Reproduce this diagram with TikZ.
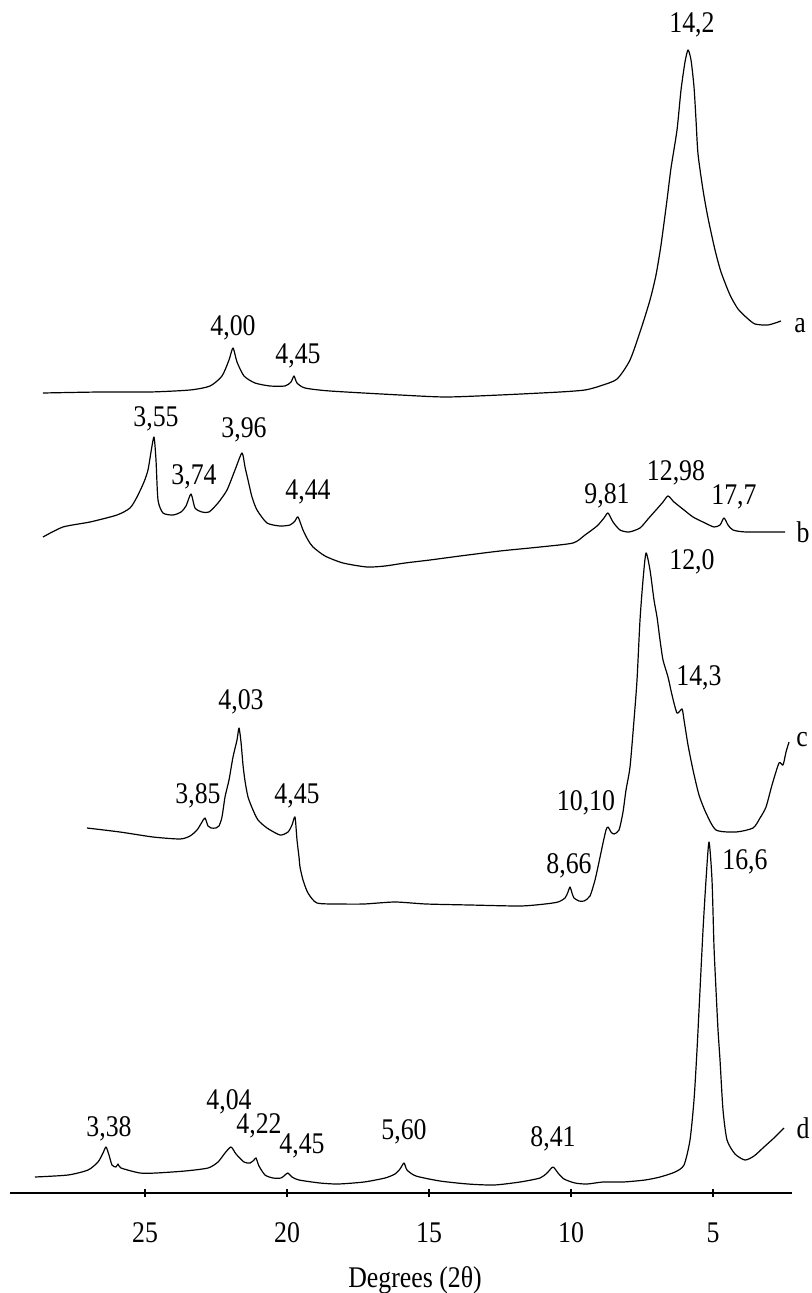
\documentclass[tikz,border=0pt]{standalone}
\usepackage{fontspec}
\setmainfont[FakeStretch=0.86]{Liberation Serif}

\begin{document}
\begin{tikzpicture}[x=0.5pt,y=-0.5pt,
  trace/.style={line width=0.6pt, line join=round, smooth, tension=0.4},
  dval/.style={font=\fontsize{15}{17}\selectfont, inner sep=0pt},
  curvetag/.style={font=\fontsize{15}{17}\selectfont, inner sep=0pt}]
\useasboundingbox (0,0) rectangle (812,1293);

% pattern a
\draw[trace] plot coordinates {(43,393) (100,392) (150,392) (190,390) (210,386) (222,376) (229,360) (233,348) (237,362) (244,376) (255,383) (270,386) (285,386) (291,382) (294,376) (297,383) (305,388) (330,391) (400,395) (446,397) (500,395) (560,392) (585,390) (600,386) (617,379) (630,360) (641,329) (650,300) (656,275) (661,245) (667,200) (671,168) (677,130) (681,90) (685,62) (688,50) (691,60) (694,87) (696,120) (698,154) (703,190) (708,218) (715,250) (721,272) (730,295) (738,309) (747,318) (755,324) (768,325) (781,321)};
\node[curvetag] (ta) at (800,326) {a};
\node[dval] (a1) at (692,25) {14,2};
\node[dval] (a2) at (233,328) {4,00};
\node[dval] (a3) at (298,356) {4,45};

% pattern b
\draw[trace] plot coordinates {(43,537) (63,527) (90,522) (117,515) (130,508) (137,497) (144,482) (148,470) (151,452) (154,437) (156,460) (158,500) (163,513) (173,515) (181,512) (186,506) (191,494) (195,508) (202,512) (209,512) (218,503) (227,490) (235,470) (242,453) (245,467) (248,480) (252,497) (257,510) (267,523) (280,526) (290,525) (295,521) (298,517) (303,530) (308,540) (313,547) (325,556) (343,563) (367,567) (385,566) (405,563) (430,560) (460,556) (500,551) (540,547) (573,543) (585,535) (597,526) (604,518) (608,513) (613,522) (620,530) (629,532) (640,528) (648,519) (656,510) (663,502) (668,496) (674,502) (684,510) (693,517) (705,523) (714,527) (720,525) (724,518) (728,525) (733,530) (746,532) (785,532)};
\node[curvetag] (tb) at (803,532) {b};
\node[dval] (b1) at (156,419) {3,55};
\node[dval] (b2) at (194,477) {3,74};
\node[dval] (b3) at (244,430) {3,96};
\node[dval] (b4) at (308,492) {4,44};
\node[dval] (b5) at (607,496) {9,81};
\node[dval] (b6) at (676,473) {12,98};
\node[dval] (b7) at (734,497) {17,7};

% pattern c
\draw[trace] plot coordinates {(87,828) (120,832) (153,837) (180,839) (190,836) (197,830) (202,822) (205,818) (208,826) (211,828) (216,828) (219,826) (222,817) (225,797) (229,780) (233,757) (237,740) (239,728) (241,742) (243,765) (245,781) (248,797) (253,810) (258,820) (267,828) (280,835) (288,832) (292,825) (295,817) (297,840) (299,857) (300,867) (303,880) (308,893) (317,903) (340,904) (364,904) (395,902) (426,904) (470,905) (520,906) (545,904) (558,902) (565,898) (568,892) (570,887) (572,893) (574,898) (579,901) (584,901) (590,896) (595,880) (599,862) (603,843) (606,830) (608,827) (611,832) (614,834) (619,830) (623,812) (626,790) (630,767) (634,720) (637,680) (640,620) (643,580) (646,553) (650,570) (654,600) (657,617) (660,640) (663,660) (668,677) (672,695) (677,713) (682,709) (684,720) (688,745) (693,770) (699,795) (706,813) (716,830) (736,832) (753,828) (760,818) (766,807) (772,785) (779,763) (783,765) (786,752) (789,742)};
\node[curvetag] (tc) at (802,740) {c};
\node[dval] (c1) at (692,562) {12,0};
\node[dval] (c2) at (699,678) {14,3};
\node[dval] (c3) at (241,702) {4,03};
\node[dval] (c4) at (198,796) {3,85};
\node[dval] (c5) at (297,796) {4,45};
\node[dval] (c6) at (586,803) {10,10};
\node[dval] (c7) at (569,866) {8,66};

% pattern d
\draw[trace] plot coordinates {(35,1177) (68,1175) (88,1170) (98,1162) (103,1153) (106,1147) (109,1155) (112,1165) (116,1167) (118,1164) (121,1168) (140,1173) (156,1173) (185,1171) (208,1168) (218,1162) (225,1153) (231,1147) (236,1154) (244,1162) (250,1163) (254,1160) (256,1158) (259,1166) (265,1175) (273,1178) (281,1178) (285,1175) (288,1173) (292,1177) (299,1180) (320,1183) (338,1184) (364,1182) (385,1178) (395,1174) (400,1169) (404,1163) (407,1170) (416,1176) (440,1181) (468,1184) (494,1185) (520,1182) (540,1178) (547,1173) (553,1167) (558,1173) (564,1179) (575,1183) (587,1184) (603,1182) (623,1182) (645,1180) (660,1177) (675,1172) (684,1165) (690,1140) (694,1100) (697,1050) (700,990) (703,930) (706,880) (709,842) (712,880) (714,947) (716,990) (718,1030) (720,1060) (723,1110) (727,1140) (735,1154) (745,1160) (754,1156) (764,1147) (775,1137) (784,1128)};
\node[curvetag] (td) at (803,1128) {d};
\node[dval] (d1) at (745,862) {16,6};
\node[dval] (d2) at (109,1129) {3,38};
\node[dval] (d3) at (229,1102) {4,04};
\node[dval] (d4) at (259,1126) {4,22};
\node[dval] (d5) at (302,1146) {4,45};
\node[dval] (d6) at (404,1132) {5,60};
\node[dval] (d7) at (553,1139) {8,41};

% axis
\coordinate (axl) at (10,1193);
\coordinate (axr) at (792,1193);
\draw[line width=0.8pt] (axl) -- (axr);
\foreach \d in {5,10,15,20,25} {
  \draw[line width=0.6pt] (855-28.4*\d,1189) -- (855-28.4*\d,1197);
  \node[dval] (t\d) at (855-28.4*\d,1233) {\d};
}
\node[dval] (xlab) at (415,1280) {Degrees (2θ)};
\end{tikzpicture}
\end{document}
